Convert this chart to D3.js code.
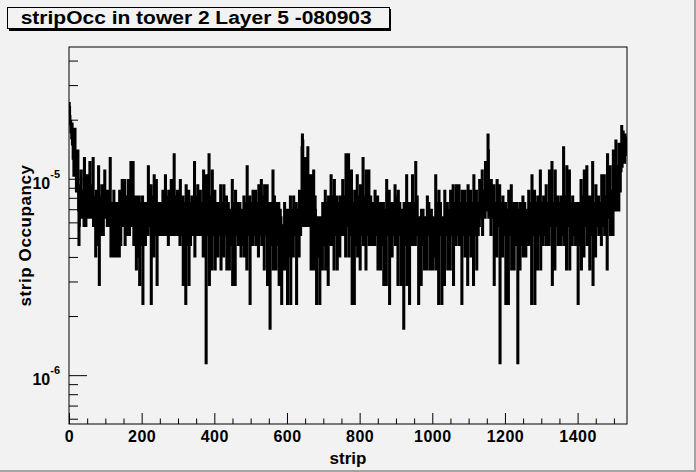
<!DOCTYPE html>
<html>
<head>
<meta charset="utf-8">
<script src="https://cdn.jsdelivr.net/npm/d3@7"></script>
<style>
  body { margin: 0; background: #f2f2f2; }
  text { font-family: "Liberation Sans", Arial, Helvetica, sans-serif; font-weight: bold; fill: #000; }
</style>
</head>
<body>
<div id="svg-container"></div>
<script>
// Chart size and frame
const width = 696;
const height = 472;
const frame = { left: 69, right: 627, top: 47, bottom: 424 };

// Occupancy of one count unit, and the y range of the pad
const occupancyUnit = 5.775e-7;
const yRange = [5.64e-7, 4.69e-5];
const nStrips = 1536;

// Per-strip occupancy in units of occupancyUnit (strip 0..1535)
const stripCounts = [
  42,40,36,33,34,30,31,28, 33,26,29,22,24,18,21,25,
  31,24,19,22,15,18,16,20, 24,16,12,8,10,13,11,14,
  13,19,12,11,15,12,14,11, 12,10,22,14,11,13,10,15,
  14,11,18,12,13,11,15,12, 12,21,13,11,14,12,16,11,
  13,11,22,10,12,14,11,13, 12,7,10,15,9,11,8,13,
  11,20,13,5,9,12,10,14, 12,9,16,11,10,13,9,12,
  13,11,19,12,14,11,15,12, 12,10,15,11,13,10,14,11,
  11,22,12,7,10,13,9,12, 10,7,12,15,9,11,7,13,
  11,7,13,9,10,12,7,11, 9,13,7,15,10,12,8,11,
  12,10,17,11,13,10,14,12, 11,17,8,12,10,14,9,13,
  13,9,12,17,10,11,9,14, 12,10,21,13,11,14,10,12,
  21,11,8,13,10,12,9,14, 11,6,13,9,14,10,7,12,
  10,14,5,11,9,13,8,12, 12,9,14,4,10,11,8,13,
  10,13,8,11,12,9,13,10, 12,9,20,11,13,10,14,11,
  11,16,4,12,9,13,10,14, 12,7,18,10,13,9,14,11,
  17,11,5,12,9,13,10,12, 11,9,13,10,12,9,13,11,
  12,9,15,10,13,11,9,14, 11,18,9,12,10,14,9,13,
  12,8,15,10,13,9,14,11, 10,17,9,12,11,14,9,13,
  12,23,10,9,13,11,14,10, 11,9,15,12,10,13,9,12,
  13,8,17,10,12,9,14,11, 10,14,5,11,9,13,8,12,
  11,4,16,9,12,10,13,8, 9,15,5,12,10,13,8,11,
  12,9,14,10,13,11,9,12, 11,21,7,12,10,14,9,13,
  12,9,16,10,13,11,9,14, 11,15,9,12,10,13,9,12,
  12,7,19,10,13,9,14,11, 11,2,18,10,12,9,13,11,
  10,23,5,12,9,14,11,13, 12,6,19,9,13,10,14,11,
  10,15,6,12,9,13,8,12, 11,7,13,9,12,10,13,10,
  10,16,6,11,9,13,8,12, 12,7,16,10,13,9,14,11,
  11,14,6,10,12,9,13,10, 10,6,12,9,11,8,12,10,
  11,17,5,10,9,13,8,12, 12,5,15,9,11,10,13,9,
  10,13,8,11,12,9,13,11, 11,7,12,9,10,12,8,11,
  10,14,7,11,12,9,13,10, 11,6,20,10,12,9,13,11,
  10,14,4,11,9,12,8,13, 12,8,15,10,13,11,9,12,
  11,15,8,12,10,13,9,12, 12,7,16,10,13,9,14,11,
  10,17,8,12,11,14,9,13, 12,6,16,10,13,9,14,11,
  10,16,5,11,12,9,13,10, 11,3,13,9,12,8,10,12,
  10,19,6,12,11,14,9,13, 11,6,13,9,12,8,10,12,
  10,13,5,11,9,12,8,11, 9,4,10,7,8,10,6,9,
  10,13,6,11,9,12,8,11, 9,4,12,8,10,11,7,10,
  11,14,4,10,9,12,8,11, 10,7,14,11,12,9,13,10,
  11,13,4,10,9,12,8,11, 10,7,15,11,12,9,13,11,
  14,25,29,27,12,10,16,13, 20,12,22,10,14,11,16,13,
  13,25,10,18,12,15,11,16, 12,18,6,11,14,9,13,10,
  11,19,6,13,10,14,12,11, 9,4,11,7,10,8,11,9,
  10,11,4,8,9,11,7,10, 9,6,13,10,11,8,12,10,
  11,15,6,10,12,9,13,11, 10,5,14,11,9,12,8,12,
  12,18,8,11,13,10,14,11, 11,6,17,10,12,9,13,11,
  10,14,6,11,12,9,13,10, 12,7,14,10,11,9,13,11,
  11,17,9,12,13,10,14,12, 12,7,23,11,13,10,14,12,
  11,23,7,12,10,14,9,13, 12,19,10,4,11,13,9,12,
  10,4,15,11,9,12,8,13, 12,18,7,11,13,10,14,11,
  10,6,16,12,11,9,13,10, 12,22,8,11,13,10,14,12,
  11,6,19,12,10,13,9,12, 12,19,8,11,13,10,14,11,
  10,13,8,11,12,9,13,11, 12,8,15,10,11,13,9,12,
  11,14,6,10,12,9,13,10, 10,6,13,11,9,12,8,11,
  11,13,5,10,9,12,8,11, 10,5,17,11,12,9,13,10,
  11,15,4,10,12,9,13,11, 10,7,13,11,12,9,12,10,
  12,16,8,11,13,10,14,11, 10,5,15,11,12,9,13,10,
  11,12,5,9,10,12,8,10, 10,3,13,11,9,12,8,11,
  11,18,5,10,12,9,13,11, 10,4,13,11,9,12,8,11,
  11,18,8,12,10,13,9,12, 12,8,21,11,13,10,14,11,
  9,11,4,8,10,11,7,9, 10,5,12,9,11,8,12,10,
  9,11,6,10,8,11,7,10, 11,6,14,10,12,9,13,10,
  10,12,6,11,9,12,8,10, 9,6,11,10,8,11,7,10,
  11,18,6,10,12,9,13,11, 10,4,15,11,12,9,13,10,
  9,11,4,10,8,11,7,10, 11,5,15,10,12,9,13,11,
  10,13,6,11,9,12,8,11, 11,6,15,10,12,9,13,10,
  10,16,5,11,12,9,13,11, 12,8,16,10,13,11,9,12,
  11,16,8,12,10,13,9,12, 10,4,15,11,12,9,13,10,
  12,15,7,11,10,13,9,12, 10,5,16,11,12,9,13,11,
  11,15,7,12,10,13,9,12, 10,5,18,11,12,9,13,11,
  12,15,6,11,10,13,9,12, 13,10,17,12,14,11,15,12,
  12,19,9,13,14,11,15,13, 14,11,21,13,15,12,16,14,
  15,29,24,11,14,16,12,15, 13,9,17,12,14,11,15,12,
  11,16,5,12,10,13,9,12, 12,7,17,11,13,10,14,11,
  11,16,2,10,12,9,13,11, 10,7,14,11,12,9,13,10,
  11,13,4,10,9,12,8,11, 10,4,15,11,12,9,13,10,
  12,16,6,11,10,13,9,12, 10,6,13,11,9,12,8,11,
  11,13,10,2,9,12,8,11, 10,6,13,11,9,12,8,11,
  11,14,7,10,12,9,13,10, 10,7,12,11,9,12,8,10,
  12,15,8,11,10,13,9,12, 11,4,18,10,12,9,13,11,
  10,15,4,11,12,9,13,10, 11,6,14,10,12,9,13,11,
  10,19,6,12,11,13,9,12, 12,8,14,11,10,13,9,12,
  11,16,8,12,10,13,9,12, 12,8,19,11,13,10,14,11,
  11,21,5,12,10,13,9,12, 12,6,19,11,13,10,14,11,
  10,14,8,11,12,9,13,11, 12,8,14,10,11,13,9,12,
  11,25,8,12,13,10,14,11, 12,6,20,11,13,10,14,12,
  11,19,6,12,10,13,9,12, 10,8,14,11,12,9,13,11,
  11,13,8,10,12,9,13,10, 10,4,13,11,9,12,8,11,
  12,17,6,11,13,10,14,11, 11,7,19,12,13,10,14,12,
  12,20,8,11,13,10,14,11, 11,6,14,10,12,9,13,10,
  10,21,5,12,11,13,9,12, 12,7,16,11,13,10,14,11,
  11,14,9,12,10,13,9,12, 12,8,18,11,13,10,14,12,
  11,18,9,13,12,14,10,13, 13,6,23,12,14,11,15,13,
  12,20,9,14,13,15,11,14, 14,9,24,13,15,12,16,14,
  16,27,12,18,15,20,14,19, 18,12,26,17,20,15,22,19,
  24,32,20,28,25,30,22,27, 26,21,29,24,27,23,28,25
];

// Tick values
const xMajorTicks = [0, 200, 400, 600, 800, 1000, 1200, 1400];
const xMinorTicks = [50, 100, 150, 250, 300, 350, 450, 500, 550, 650, 700, 750, 850, 900, 950,
                     1050, 1100, 1150, 1250, 1300, 1350, 1450, 1500];
const yMajorTicks = [1e-6, 1e-5];
const yMajorLabels = ["-6", "-5"];
const yMinorTicks = [6e-7, 7e-7, 8e-7, 9e-7, 2e-6, 3e-6, 4e-6, 5e-6, 6e-6, 7e-6, 8e-6, 9e-6, 2e-5, 3e-5, 4e-5];

const titleText = "stripOcc in tower 2 Layer 5 -080903";
const xTitle = "strip";
const yTitle = "strip Occupancy";

const svg = d3.select("#svg-container")
  .append("svg")
    .attr("width", width)
    .attr("height", height);

// canvas background + bevel
svg.append("rect").attr("width", width).attr("height", height).attr("fill", "#f2f2f2");
svg.append("rect").attr("x", width - 2).attr("y", 0).attr("width", 2).attr("height", height).attr("fill", "#a4a4a4");
svg.append("rect").attr("x", 0).attr("y", height - 2).attr("width", width).attr("height", 2).attr("fill", "#a4a4a4");

// Scales
const xScale = d3.scaleLinear()
  .domain([0, nStrips])
  .range([frame.left, frame.right]);

const yScale = d3.scaleLog()
  .domain(yRange)
  .range([frame.bottom, frame.top]);

// Clip for the histogram
svg.append("clipPath").attr("id", "plotClip")
  .append("rect")
    .attr("x", frame.left).attr("y", frame.top)
    .attr("width", frame.right - frame.left).attr("height", frame.bottom - frame.top);

// Histogram outline
const points = stripCounts.map((c, i) => ({ strip: i, value: c * occupancyUnit }));
points.push({ strip: nStrips, value: stripCounts[stripCounts.length - 1] * occupancyUnit });

const line = d3.line()
  .curve(d3.curveStepAfter)
  .x(d => xScale(d.strip))
  .y(d => yScale(d.value));

svg.append("path")
  .attr("clip-path", "url(#plotClip)")
  .attr("d", line(points))
  .attr("fill", "none")
  .attr("stroke", "#000")
  .attr("stroke-width", 2.7)
  .attr("stroke-linejoin", "miter");

// Frame
svg.append("rect")
  .attr("x", frame.left).attr("y", frame.top)
  .attr("width", frame.right - frame.left).attr("height", frame.bottom - frame.top)
  .attr("fill", "none")
  .attr("stroke", "#000")
  .attr("stroke-width", 1);

// x axis ticks (drawn inward)
svg.append("g")
  .attr("transform", `translate(0, ${frame.bottom})`)
  .call(d3.axisBottom(xScale).tickValues(xMinorTicks).tickSize(-5.5).tickFormat(""))
  .call(g => g.select(".domain").remove());

svg.append("g")
  .attr("transform", `translate(0, ${frame.bottom})`)
  .call(d3.axisBottom(xScale).tickValues(xMajorTicks).tickSize(-11).tickPadding(0).tickFormat(d3.format("d")))
  .call(g => g.select(".domain").remove())
  .call(g => g.selectAll("text")
    .attr("y", 18)
    .attr("dy", null)
    .style("font-size", "16px")
    .style("font-family", "'Liberation Sans', Arial, sans-serif")
    .style("font-weight", "bold")
    .attr("letter-spacing", 0.5));

svg.selectAll(".tick line").attr("stroke", "#000");

// y axis ticks (drawn inward)
svg.append("g")
  .attr("transform", `translate(${frame.left}, 0)`)
  .call(d3.axisLeft(yScale).tickValues(yMinorTicks).tickSize(-9).tickFormat(""))
  .call(g => g.select(".domain").remove());

svg.append("g")
  .attr("transform", `translate(${frame.left}, 0)`)
  .call(d3.axisLeft(yScale).tickValues(yMajorTicks).tickSize(-18).tickFormat(""))
  .call(g => g.select(".domain").remove());

svg.selectAll(".tick line").attr("stroke", "#000");

// y labels as 10^n
const yLab = svg.append("g").selectAll("text")
  .data(yMajorTicks)
  .enter()
  .append("text")
    .attr("x", 60)
    .attr("y", d => yScale(d) + 10)
    .attr("text-anchor", "end")
    .style("font-size", "16px");

yLab.append("tspan").text("10");
yLab.append("tspan")
  .attr("dy", -11)
  .style("font-size", "11px")
  .text((d, i) => yMajorLabels[i]);

// axis titles
svg.append("text")
  .attr("x", (frame.left + frame.right) / 2)
  .attr("y", 464)
  .attr("text-anchor", "middle")
  .style("font-size", "17px")
  .text(xTitle);

svg.append("text")
  .attr("transform", `translate(31, ${(frame.top + frame.bottom) / 2}) rotate(-90)`)
  .attr("text-anchor", "middle")
  .style("font-size", "17px")
  .attr("letter-spacing", 0.6)
  .text(yTitle);

// title box with shadow
svg.append("rect")
  .attr("x", 9).attr("y", 9).attr("width", 382).attr("height", 22)
  .attr("fill", "#000");
svg.append("rect")
  .attr("x", 7.5).attr("y", 7.5).attr("width", 382).attr("height", 21)
  .attr("fill", "#f2f2f2")
  .attr("stroke", "#000")
  .attr("stroke-width", 1);
svg.append("text")
  .attr("x", 20.7)
  .attr("y", 24)
  .style("font-size", "17.5px")
  .attr("textLength", 351)
  .attr("lengthAdjust", "spacingAndGlyphs")
  .text(titleText);
</script>
</body>
</html>
